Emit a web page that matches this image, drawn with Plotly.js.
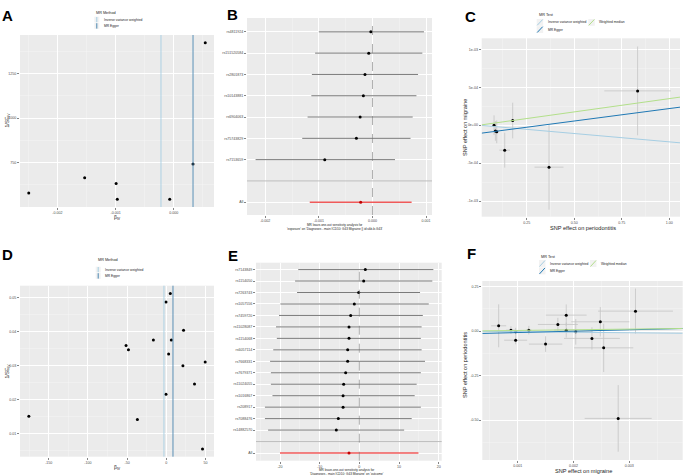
<!DOCTYPE html>
<html><head><meta charset="utf-8">
<script src="https://cdn.plot.ly/plotly-3.0.1.min.js"></script>
<style>html,body{margin:0;padding:0;background:#fff}</style>
</head><body><div id="chart" style="width:685px;height:475px"></div>
<script>
// ---------- Panel A (funnel) ----------
const A_beta = [-0.00249,-0.00153,-0.00099,-0.00097,-0.00007,0.00033,0.00054];
const A_prec = [579,665,633,545,545,742,1423];
const A_ivw = -0.00022, A_egger = 0.00033;
const A_xticks = [-0.002,-0.001,0], A_xlabels = ['-0.002','-0.001','0.000'];
const A_yticks = [500,750,1000,1250], A_ylabels = ['500','750','1000','1250'];

// ---------- Panel B (leave-one-out) ----------
const B_snps = ['rs4811924','rs151520584','rs2801873','rs10143881','rs6904063','rs75743829','rs7153659'];
const B_beta = [-0.00003,-0.00007,-0.00014,-0.00017,-0.00023,-0.00030,-0.00089];
const B_lo   = [-0.00100,-0.00107,-0.00113,-0.00114,-0.00121,-0.00131,-0.00218];
const B_hi   = [0.00096,0.00093,0.00085,0.00082,0.00075,0.00071,0.00042];
const B_all  = {beta:-0.00022, lo:-0.00117, hi:0.00073};
const B_xticks = [-0.002,-0.001,0,0.001], B_xlabels = ['-0.002','-0.001','0.000','0.001'];

// ---------- Panel C (scatter) ----------
const C_x    = [0.078,0.085,0.092,0.176,0.134,0.367,0.833];
const C_y    = [0,-7.5e-5,-8.8e-5,6.1e-5,-3.29e-4,-5.53e-4,4.52e-4];
const C_xerr = [0.010,0.010,0.012,0.010,0.028,0.076,0.175];
const C_yerr = [1.3e-4,1.3e-4,1.5e-4,2.35e-4,2.3e-4,5.6e-4,5.85e-4];
const C_fit  = {ivw:{a:0,b:-2.2e-4}, egger:{a:-1.09e-4,b:3.28e-4}, wm:{a:0,b:3.5e-4}};
const C_xticks = [0.25,0.5,0.75,1], C_xlabels = ['0.25','0.50','0.75','1.00'];
const C_yticks = [-1e-3,-5e-4,0,5e-4,1e-3], C_ylabels = ['-1e-03','-5e-04','0e+00','5e-04','1e-03'];

// ---------- Panel D (funnel) ----------
const D_beta = [-175.4,-51.3,-48.3,-36.9,-16.5,-0.4,5.1,6.4,3.0,-0.4,22,21.2,36,49.6,46.2];
const D_prec = [0.0150,0.0359,0.0346,0.0141,0.0375,0.0487,0.0512,0.0375,0.0334,0.0215,0.0404,0.0299,0.0245,0.0310,0.0054];
const D_ivw = -3, D_egger = 8.5;
const D_xticks = [-150,-100,-50,0,50], D_xlabels = ['-150','-100','-50','0','50'];
const D_yticks = [0.01,0.02,0.03,0.04,0.05], D_ylabels = ['0.01','0.02','0.03','0.04','0.05'];

// ---------- Panel E (leave-one-out) ----------
const E_snps = ['rs7143849','rs1154050','rs7263743','rs1057556','rs7459720','rs11028087','rs1154068','rs6057114','rs7668331','rs7679371','rs11024055','rs1016867','rs208917','rs7088476','rs14882570'];
const E_beta = [1.51,1.09,-0.17,-1.26,-2.18,-2.6,-2.6,-2.94,-2.94,-3.45,-3.95,-4.1,-4.1,-5.3,-5.8];
const E_lo   = [-15.4,-16.2,-15.7,-19.9,-20.25,-21.0,-20.8,-21.7,-22.5,-22.3,-22.3,-21.9,-23.8,-23.8,-23.0];
const E_hi   = [18.66,18.4,15.3,17.5,16.0,15.7,15.5,15.7,16.55,15.5,14.45,13.95,15.5,13.2,11.3];
const E_all  = {beta:-2.6, lo:-20.0, hi:14.9};
const E_xticks = [-20,-10,0,10,20], E_xlabels = ['-20','-10','0','10','20'];

// ---------- Panel F (scatter) ----------
const F_x    = [0.00066,0.00088,0.000964,0.000964,0.0012,0.0015,0.00172,0.00187,0.00187,0.00204,0.00233,0.00248,0.00254,0.0028,0.00311];
const F_y    = [0.030,0.0056,-0.004,-0.051,0.0056,-0.073,0.0375,0.09,0.0056,-0.004,-0.041,0.0525,-0.094,-0.491,0.1125];
const F_xerr = [0.000134,0.000084,0.000104,0.000206,0.000051,0.000299,0.000358,0.000364,0.000215,0.0003,0.0005,0.00052,0.00053,0.0006,0.00067];
const F_yerr = [0.121,0.022,0.0225,0.023,0.024,0.044,0.0375,0.06,0.042,0.072,0.063,0.0825,0.136,0.1875,0.127];
const F_fit  = {ivw:{a:0,b:-3.05}, egger:{a:-0.0159,b:7.8}, wm:{a:0,b:3.8}};
const F_xticks = [0.001,0.002,0.003], F_xlabels = ['0.001','0.002','0.003'];
const F_yticks = [-0.5,-0.25,0,0.25], F_ylabels = ['-0.50','-0.25','0.00','0.25'];

// ================= drawing =================
const W=685,H=475, FONT='Liberation Sans, Arial, sans-serif';
const px=x=>x/W, py=y=>1-y/H;
const COL={ivw:'#a6cee3', egger:'#1f78b4', wm:'#b2df8a'};

function axis(dom, rng, tv, tt, anchor, minor){
  const o={domain:dom, range:rng, tickmode:'array', tickvals:tv, ticktext:tt, anchor:anchor,
    showgrid:true, gridcolor:'#ffffff', gridwidth:1, zeroline:false, showline:false,
    ticks:'outside', ticklen:2, tickwidth:0.6, tickcolor:'#333333',
    tickfont:{size:3.6,color:'#4d4d4d',family:FONT}, automargin:false, fixedrange:true};
  if(minor){
    const step=tv[1]-tv[0], mv=[];
    for(let k=-3;k<tv.length+3;k++){const v=tv[0]+(k+0.5)*step; if(v>Math.min(...rng)&&v<Math.max(...rng)) mv.push(v);}
    o.minor={tickmode:'array', tickvals:mv, showgrid:true, gridcolor:'#f6f6f6', gridwidth:0.5, ticks:''};
  }
  return o;
}

const traces=[];
// A
traces.push({type:'scatter',mode:'markers',x:A_beta,y:A_prec,xaxis:'x',yaxis:'y',marker:{size:3,color:'#000'}});
// B
const nB=B_snps.length, B_pos=B_snps.map((s,i)=>nB+1-i);
traces.push({type:'scatter',mode:'markers',x:B_beta,y:B_pos,xaxis:'x2',yaxis:'y2',marker:{size:3,color:'#000'},
  error_x:{type:'data',symmetric:false,array:B_hi.map((h,i)=>h-B_beta[i]),arrayminus:B_lo.map((l,i)=>B_beta[i]-l),color:'#7a7a7a',thickness:1,width:0}});
traces.push({type:'scatter',mode:'markers',x:[B_all.beta],y:[0],xaxis:'x2',yaxis:'y2',marker:{size:3,color:'#c00000'},
  error_x:{type:'data',symmetric:false,array:[B_all.hi-B_all.beta],arrayminus:[B_all.beta-B_all.lo],color:'#f05a5a',thickness:1.6,width:0}});
// C
const C_xr=[0.013,1.056], C_yr=[-1.206e-3,1.145e-3];
traces.push({type:'scatter',mode:'markers',x:C_x,y:C_y,xaxis:'x3',yaxis:'y3',marker:{size:3,color:'#000'},
  error_x:{type:'data',array:C_xerr,color:'#c4c4c4',thickness:0.8,width:0},
  error_y:{type:'data',array:C_yerr,color:'#c4c4c4',thickness:0.8,width:0}});
[['ivw',COL.ivw],['egger',COL.egger],['wm',COL.wm]].forEach(([k,c])=>{
  const f=C_fit[k];
  traces.push({type:'scatter',mode:'lines',x:C_xr,y:C_xr.map(x=>f.a+f.b*x),xaxis:'x3',yaxis:'y3',line:{color:c,width:1}});
});
// D
traces.push({type:'scatter',mode:'markers',x:D_beta,y:D_prec,xaxis:'x4',yaxis:'y4',marker:{size:3,color:'#000'}});
// E
const nE=E_snps.length, E_pos=E_snps.map((s,i)=>nE+1-i);
traces.push({type:'scatter',mode:'markers',x:E_beta,y:E_pos,xaxis:'x5',yaxis:'y5',marker:{size:3,color:'#000'},
  error_x:{type:'data',symmetric:false,array:E_hi.map((h,i)=>h-E_beta[i]),arrayminus:E_lo.map((l,i)=>E_beta[i]-l),color:'#7a7a7a',thickness:1,width:0}});
traces.push({type:'scatter',mode:'markers',x:[E_all.beta],y:[0],xaxis:'x5',yaxis:'y5',marker:{size:3,color:'#c00000'},
  error_x:{type:'data',symmetric:false,array:[E_all.hi-E_all.beta],arrayminus:[E_all.beta-E_all.lo],color:'#f05a5a',thickness:1.6,width:0}});
// F
const F_xr=[0.000367,0.003955], F_yr=[-0.725,0.282];
traces.push({type:'scatter',mode:'markers',x:F_x,y:F_y,xaxis:'x6',yaxis:'y6',marker:{size:3,color:'#000'},
  error_x:{type:'data',array:F_xerr,color:'#c4c4c4',thickness:0.8,width:0},
  error_y:{type:'data',array:F_yerr,color:'#c4c4c4',thickness:0.8,width:0}});
[['ivw',COL.ivw],['egger',COL.egger],['wm',COL.wm]].forEach(([k,c])=>{
  const f=F_fit[k];
  traces.push({type:'scatter',mode:'lines',x:F_xr,y:F_xr.map(x=>f.a+f.b*x),xaxis:'x6',yaxis:'y6',line:{color:c,width:1}});
});
traces.forEach(t=>{t.showlegend=false;t.hoverinfo='skip';});

const layout={width:W,height:H,margin:{l:0,r:0,t:0,b:0},paper_bgcolor:'#fff',plot_bgcolor:'#ebebeb',
  showlegend:false,font:{family:FONT,color:'#000'},
  xaxis: axis([px(20),px(214)],[-0.00264,0.00069],A_xticks,A_xlabels,'y',true),
  yaxis: axis([py(207),py(35)],[501,1467],A_yticks,A_ylabels,'x',true),
  xaxis2:axis([px(247),px(432)],[-0.00234,0.00111],B_xticks,B_xlabels,'y2',true),
  yaxis2:axis([py(215),py(18)],[-0.6,nB+1.65],[0].concat(B_pos),['All'].concat(B_snps),'x2',false),
  xaxis3:axis([px(481.7),px(680)],C_xr,C_xticks,C_xlabels,'y3',true),
  yaxis3:axis([py(216.7),py(38.3)],C_yr,C_yticks,C_ylabels,'x3',true),
  xaxis4:axis([px(20),px(214)],[-186.65,60.85],D_xticks,D_xlabels,'y4',true),
  yaxis4:axis([py(456.7),py(285.7)],[0.00311,0.0535],D_yticks,D_ylabels,'x4',true),
  xaxis5:axis([px(256),px(441.7)],[-26.05,20.76],E_xticks,E_xlabels,'y5',true),
  yaxis5:axis([py(460.7),py(262.7)],[-0.67,nE+1.6],[0].concat(E_pos),['All'].concat(E_snps),'x5',false),
  xaxis6:axis([px(482.3),px(682.7)],F_xr,F_xticks,F_xlabels,'y6',true),
  yaxis6:axis([py(460),py(281)],F_yr,F_yticks,F_ylabels,'x6',true),
  shapes:[],annotations:[]};

const S=layout.shapes, An=layout.annotations;
// reference lines
S.push({type:'line',xref:'x',yref:'y domain',x0:A_ivw,x1:A_ivw,y0:0,y1:1,line:{color:COL.ivw,width:0.9}});
S.push({type:'line',xref:'x',yref:'y domain',x0:A_egger,x1:A_egger,y0:0,y1:1,line:{color:'#4a86b0',width:0.9}});
S.push({type:'line',xref:'x4',yref:'y4 domain',x0:D_ivw,x1:D_ivw,y0:0,y1:1,line:{color:COL.ivw,width:0.9}});
S.push({type:'line',xref:'x4',yref:'y4 domain',x0:D_egger,x1:D_egger,y0:0,y1:1,line:{color:'#4a86b0',width:0.9}});
S.push({type:'line',xref:'x2 domain',yref:'y2',x0:0,x1:1,y0:1,y1:1,line:{color:'#bebebe',width:1}});
S.push({type:'line',xref:'x2',yref:'y2 domain',x0:0,x1:0,y0:0,y1:1,line:{color:'#777',width:0.6,dash:'dash'}});
S.push({type:'line',xref:'x5 domain',yref:'y5',x0:0,x1:1,y0:1,y1:1,line:{color:'#bebebe',width:1}});
S.push({type:'line',xref:'x5',yref:'y5 domain',x0:0,x1:0,y0:0,y1:1,line:{color:'#777',width:0.6,dash:'dash'}});

function txt(x,y,t,size,opt){An.push(Object.assign({xref:'paper',yref:'paper',x:px(x),y:py(y),text:t,showarrow:false,
  font:{size:size,family:FONT,color:'#000'},xanchor:'center',yanchor:'middle'},opt||{}));}
// panel letters
txt(8,15.5,'<b>A</b>',15); txt(232,15,'<b>B</b>',15); txt(470,16.5,'<b>C</b>',15);
txt(8,254.5,'<b>D</b>',15); txt(233,255.5,'<b>E</b>',15); txt(471,253.5,'<b>F</b>',15);
// axis titles
const G={size:5,family:FONT,color:'#222'};
txt(117,217.5,'β<sub>IV</sub>',5,{font:G});
txt(6.5,120,'1/SE<sub>IV</sub>',5,{textangle:-90,font:G});
txt(117,467,'β<sub>IV</sub>',5,{font:G});
txt(6.5,371,'1/SE<sub>IV</sub>',5,{textangle:-90,font:G});
const T={size:3.1,family:FONT,color:'#222'};
txt(335,227.5,"MR leave-one-out sensitivity analysis for<br>'exposure' on 'Diagnoses - main ICD10: G43 Migraine || id:ukb-b-G43'",3.1,{font:T});
txt(347,471.5,"MR leave-one-out sensitivity analysis for<br>'Diagnoses - main ICD10: G43 Migraine' on 'outcome'",3.1,{font:T});
const X={size:5.6,family:FONT,color:'#222'};
txt(583,228,'SNP effect on periodontitis',5.6,{font:X});
txt(465,127,'SNP effect on migraine',5.6,{textangle:-90,font:X});
txt(583,470.5,'SNP effect on migraine',5.6,{font:X});
txt(465,365,'SNP effect on periodontitis',5.6,{textangle:-90,font:X});

// legends
function vkey(x,y0,y1,c){S.push({type:'rect',xref:'paper',yref:'paper',x0:px(x),x1:px(x+5),y0:py(y1),y1:py(y0),fillcolor:'#f2f2f2',line:{width:0}});
  S.push({type:'line',xref:'paper',yref:'paper',x0:px(x+2.5),x1:px(x+2.5),y0:py(y1-0.3),y1:py(y0+0.3),line:{color:c,width:1}});}
function dkey(x,y0,y1,c){S.push({type:'rect',xref:'paper',yref:'paper',x0:px(x),x1:px(x+6.5),y0:py(y1),y1:py(y0),fillcolor:'#f2f2f2',line:{width:0}});
  S.push({type:'line',xref:'paper',yref:'paper',x0:px(x+0.5),x1:px(x+6),y0:py(y1-0.5),y1:py(y0+0.5),line:{color:c,width:1}});}
const L={size:3.3,family:FONT,color:'#222'}, LT={size:3.8,family:FONT,color:'#222'};
// A legend
txt(94.3,12.7,'MR Method',3.8,{xanchor:'left',font:LT});
vkey(94.3,16.7,22.5,COL.ivw); vkey(94.3,22.9,28.9,'#4a86b0');
txt(101.5,19.6,'Inverse variance weighted',3.3,{xanchor:'left',font:L});
txt(101.5,25.9,'MR Egger',3.3,{xanchor:'left',font:L});
// D legend
txt(95.7,260,'MR Method',3.8,{xanchor:'left',font:LT});
vkey(95.7,266.7,272.5,COL.ivw); vkey(95.7,272.9,278.9,'#4a86b0');
txt(102.7,269.6,'Inverse variance weighted',3.3,{xanchor:'left',font:L});
txt(102.7,275.9,'MR Egger',3.3,{xanchor:'left',font:L});
// C legend
txt(536.7,15,'MR Test',3.8,{xanchor:'left',font:LT});
dkey(536.7,19,25.8,COL.ivw); dkey(536.7,26.2,33,COL.egger); dkey(588.3,19,25.8,COL.wm);
txt(545.5,22.4,'Inverse variance weighted',3.3,{xanchor:'left',font:L});
txt(545.5,29.6,'MR Egger',3.3,{xanchor:'left',font:L});
txt(597,22.4,'Weighted median',3.3,{xanchor:'left',font:L});
// F legend
txt(539,256.7,'MR Test',3.8,{xanchor:'left',font:LT});
dkey(539,260,267,COL.ivw); dkey(539,267.4,274.4,COL.egger); dkey(590,260,267,COL.wm);
txt(547.5,263.5,'Inverse variance weighted',3.3,{xanchor:'left',font:L});
txt(547.5,270.9,'MR Egger',3.3,{xanchor:'left',font:L});
txt(598.5,263.5,'Weighted median',3.3,{xanchor:'left',font:L});

Plotly.newPlot('chart',traces,layout,{staticPlot:true,displayModeBar:false});
</script></body></html>
